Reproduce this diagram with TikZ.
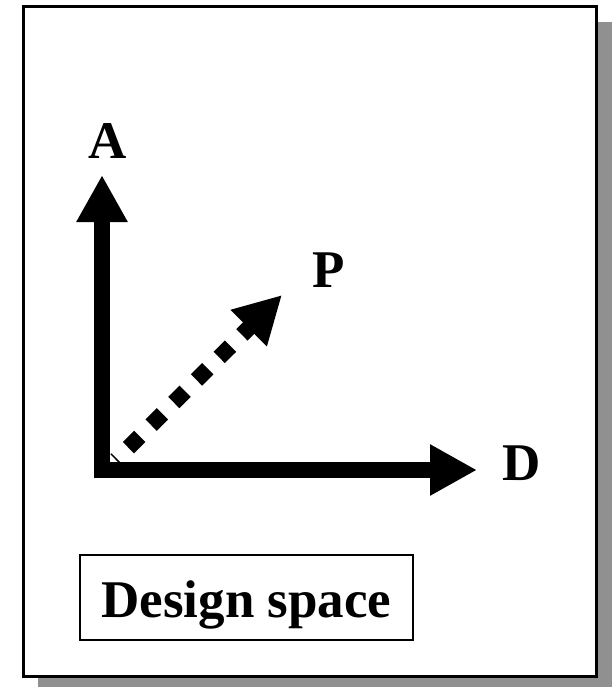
\documentclass[tikz,border=0pt]{standalone}
\usepackage{fontspec}
\setmainfont{Liberation Serif}
\usepackage{tikz}
\usetikzlibrary{arrows.meta}
\definecolor{shadowgray}{gray}{0.565}

\begin{document}
\begin{tikzpicture}[x=1pt,y=-1pt,
    axis/.style={line width=16pt,-{Triangle[width=48pt,length=47pt]}},
    probe/.style={axis,dash pattern=on 16pt off 16pt,dash phase=14.5pt},
    axislabel/.style={font=\fontsize{53}{60}\selectfont\bfseries,inner sep=0pt,anchor=base}]
  \useasboundingbox (0,0) rectangle (611,687);
  % page with drop shadow
  \fill[shadowgray] (38,22) rectangle (626,702);
  \draw[line width=3pt,fill=white] (23,7) rectangle (596,676);

  % axes
  \coordinate (origin) at (102,478);
  \coordinate (atip) at (102,175);
  \coordinate (dstart) at (94,470);
  \coordinate (dtip) at (477,470);
  \draw[axis] (origin) -- (atip);
  \draw[axis] (dstart) -- (dtip);
  \node[axislabel] (alabel) at (108,158) {A};
  \node[axislabel,anchor=base west] (dlabel) at (502,480) {D};

  % dotted design point
  \coordinate (pstart) at (116,460);
  \coordinate (ptip) at (282,295);
  \draw[probe] (pstart) -- (ptip);
  \node[axislabel,anchor=base west] (plabel) at (312,287) {P};

  % caption box
  \node[axislabel,draw,line width=2pt,text height=62pt,text depth=23pt,
        minimum width=333pt] (caption) at (246.5,617) {Design space};
\end{tikzpicture}
\end{document}
